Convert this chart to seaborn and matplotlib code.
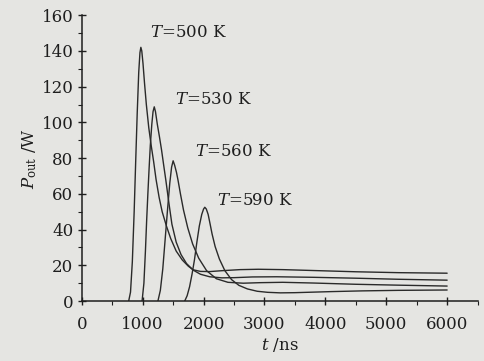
import numpy as np
import pandas as pd
import matplotlib
matplotlib.use("Agg")
import matplotlib.pyplot as plt
import seaborn as sns
from matplotlib.ticker import MultipleLocator

# valores (t en ns, P en W)
t500 = [770, 800, 830, 860, 885, 910, 935, 955, 970, 985, 1005, 1030, 1060, 1100, 1140, 1180,
        1220, 1270, 1320, 1390, 1460, 1550, 1650, 1750, 1830, 1950, 2100, 2300, 2600, 2900,
        3300, 3800, 4500, 5200, 6000]
p500 = [0, 5, 22, 50, 78, 105, 128, 139, 142, 140, 133, 122, 110, 97, 87, 78,
        68, 58, 50, 42, 35, 28, 23, 19.5, 17.5, 16.6, 16.5, 17.0, 17.6, 17.8,
        17.6, 17.1, 16.4, 15.9, 15.6]

t530 = [990, 1020, 1045, 1065, 1085, 1105, 1125, 1150, 1170, 1190, 1210, 1240, 1275, 1310,
        1345, 1380, 1430, 1480, 1550, 1630, 1720, 1830, 1950, 2100, 2300, 2500, 2800, 3200,
        3800, 4500, 5200, 6000]
p530 = [0, 10, 28, 45, 60, 74, 87, 99, 106, 108.7, 106, 99, 92, 84.5,
        76, 67.7, 55, 43, 33, 26, 21, 17.3, 15, 13.6, 13.0, 13.1, 13.5, 13.6,
        13.3, 12.8, 12.2, 11.7]

t560 = [1250, 1290, 1330, 1370, 1410, 1445, 1475, 1500, 1525, 1555, 1580, 1620, 1670, 1740,
        1820, 1920, 2050, 2210, 2400, 2650, 2930, 3300, 3800, 4500, 5200, 6000]
p560 = [0, 6, 18, 35, 52, 66, 75, 78.5, 76, 72, 67.7, 60, 51, 41,
        32, 24, 17, 12.5, 10.5, 10.0, 10.3, 10.5, 10.1, 9.4, 8.9, 8.4]

t590 = [1690, 1730, 1770, 1810, 1850, 1890, 1930, 1970, 2000, 2020, 2045, 2075, 2105, 2140,
        2190, 2260, 2350, 2460, 2580, 2720, 2880, 3050, 3260, 3500, 3800, 4100, 4600, 5200, 6000]
p590 = [0, 3, 8, 15, 23, 33, 42, 48.5, 51.5, 52.5, 51.5, 48.5, 43.5, 37.5,
        30.5, 23.5, 17, 12, 8.8, 6.8, 5.5, 4.9, 4.6, 4.7, 5, 5.3, 5.7, 6.0, 6.2]

temps = ["500", "530", "560", "590"]
curvas = {"500": (t500, p500), "530": (t530, p530), "560": (t560, p560), "590": (t590, p590)}
# posicion de las etiquetas (t, P)
etiq_t = [1120, 1530, 1860, 2220]
etiq_p = [150.5, 113, 83.5, 56.5]

filas = []
for T in temps:
    tt, pp = curvas[T]
    for a, b in zip(tt, pp):
        filas.append({"t": a, "P": b, "T": T})
df = pd.DataFrame(filas)

sns.set_style("ticks")
plt.rcParams["font.family"] = ["DejaVu Serif"]
plt.rcParams["mathtext.fontset"] = "dejavuserif"

fondo = "#e5e5e2"
tinta = "#1e1e1e"
fig = plt.figure(figsize=(4.84, 3.61), dpi=100, facecolor=fondo)
ax = fig.add_axes([0.169, 0.166, 0.819, 0.792], facecolor=fondo)

sns.lineplot(data=df, x="t", y="P", hue="T", units="T", estimator=None, sort=False,
             palette=["#2a2a2a"] * 4, linewidth=1.0, legend=False, ax=ax)

for T, x, y in zip(temps, etiq_t, etiq_p):
    ax.text(x, y, r"$T$=" + T + " K", fontsize=12, va="center", ha="left", color=tinta)

ax.xaxis.set_major_locator(MultipleLocator(1000))
ax.xaxis.set_minor_locator(MultipleLocator(500))
ax.yaxis.set_major_locator(MultipleLocator(20))
ax.yaxis.set_minor_locator(MultipleLocator(10))
ax.tick_params(axis="both", which="major", direction="inout", length=6, width=1,
               labelsize=12, colors=tinta)
ax.tick_params(axis="x", which="major", pad=8)
ax.tick_params(axis="y", which="major", pad=3)
ax.tick_params(axis="both", which="minor", direction="out", length=3, width=0.8, colors=tinta)
ax.set_xticks(range(0, 6001, 1000))
ax.set_xlim(0, 6510)
ax.set_ylim(0, 160)

ax.set_xlabel(r"$t$ /ns", fontsize=12, labelpad=2, color=tinta)
ax.set_ylabel(r"$P_{\rm out}$ /W", fontsize=12, labelpad=2, color=tinta)

sns.despine(ax=ax)
for s in ["left", "bottom"]:
    ax.spines[s].set_color(tinta)
    ax.spines[s].set_linewidth(1.1)

fig.savefig("out.png", dpi=100, facecolor=fondo)
